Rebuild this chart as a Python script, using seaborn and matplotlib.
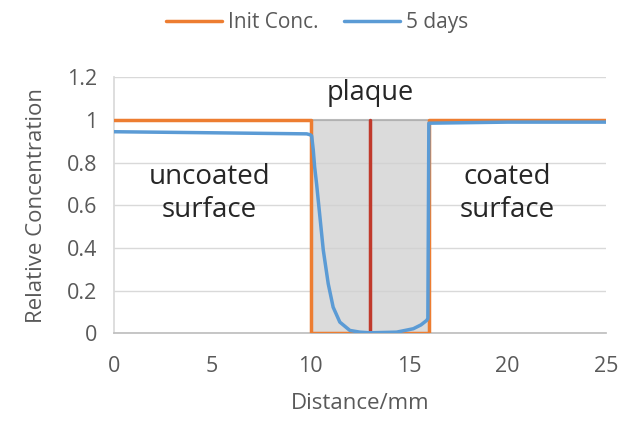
import matplotlib
matplotlib.use("Agg")
import matplotlib.pyplot as plt
import seaborn as sns
import pandas as pd

init_x = [0, 10, 10, 16, 16, 25]
init_y = [1, 1, 0, 0, 1, 1]

days5_x = [0, 5, 9.8, 10.0, 10.05, 10.13, 10.20, 10.30, 10.47, 10.64, 10.89, 11.14, 11.48, 11.99, 12.5, 13.0,
           14.36, 15.21, 15.6, 15.89, 15.95, 16.0, 20, 25]
days5_y = [0.945, 0.94, 0.935, 0.93, 0.925, 0.86, 0.78, 0.70, 0.545, 0.39, 0.233, 0.123, 0.053, 0.014, 0.006, 0.003,
           0.006, 0.022, 0.04, 0.061, 0.07, 0.985, 0.99, 0.99]

plaque_x = [10, 16]
center_x = 13

sns.set_theme(style="white")
plt.rcParams['font.family'] = ['Open Sans', 'DejaVu Sans']

fig = plt.figure(figsize=(6.32, 4.21), dpi=100)
ax = fig.add_axes([0.180, 0.208, 0.779, 0.6084])

ax.set_xlim(0, 25)
ax.set_ylim(0, 1.2)
ax.set_yticks([0, 0.2, 0.4, 0.6, 0.8, 1.0, 1.2])
ax.set_yticklabels(["0", "0.2", "0.4", "0.6", "0.8", "1", "1.2"])
ax.set_xticks([0, 5, 10, 15, 20, 25])
ax.grid(axis='y', color='#d9d9d9', linewidth=1, zorder=0)
ax.set_axisbelow(True)

ax.fill_between(plaque_x, [0, 0], [1, 1], facecolor='#d0d0d0', alpha=0.75,
                edgecolor='#a6a6a6', linewidth=1.5, zorder=1)
ax.plot([center_x, center_x], [0, 1], color='#c0392b', linewidth=2.5, zorder=2)

df1 = pd.DataFrame({"x": init_x, "y": init_y})
df2 = pd.DataFrame({"x": days5_x, "y": days5_y})
sns.lineplot(data=df1, x="x", y="y", sort=False, estimator=None, errorbar=None,
             color='#ed7d31', linewidth=2.5, label="Init Conc.", ax=ax, zorder=3)
sns.lineplot(data=df2, x="x", y="y", sort=False, estimator=None, errorbar=None,
             color='#5b9bd5', linewidth=2.5, label="5 days", ax=ax, zorder=4)

for s in ['top', 'right']:
    ax.spines[s].set_visible(False)
ax.spines['left'].set_color('#d9d9d9')
ax.spines['bottom'].set_color('#bfbfbf')
ax.tick_params(axis='both', labelsize=15.5, colors='#595959', length=0)
ax.tick_params(axis='x', pad=16)
ax.tick_params(axis='y', pad=12)

ax.set_xlabel("Distance/mm", fontsize=16, color='#595959', labelpad=12)
ax.set_ylabel("Relative Concentration", fontsize=16, color='#595959', labelpad=14)

ax.text(13, 1.125, "plaque", ha='center', va='center', fontsize=19.5, color='#262626')
ax.text(4.85, 0.656, "uncoated\nsurface", ha='center', va='center', fontsize=20,
        color='#262626', linespacing=1.2)
ax.text(20.0, 0.656, "coated\nsurface", ha='center', va='center', fontsize=20,
        color='#262626', linespacing=1.2)

ax.get_legend().remove()
handles, labels = ax.get_legend_handles_labels()
leg = fig.legend(handles, labels, loc='center', bbox_to_anchor=(0.502, 0.946), ncol=2,
                 frameon=False, fontsize=15, handlelength=2.7, columnspacing=1.2,
                 handletextpad=0.3)
for t in leg.get_texts():
    t.set_color('#595959')

fig.savefig("out.png", dpi=100)
